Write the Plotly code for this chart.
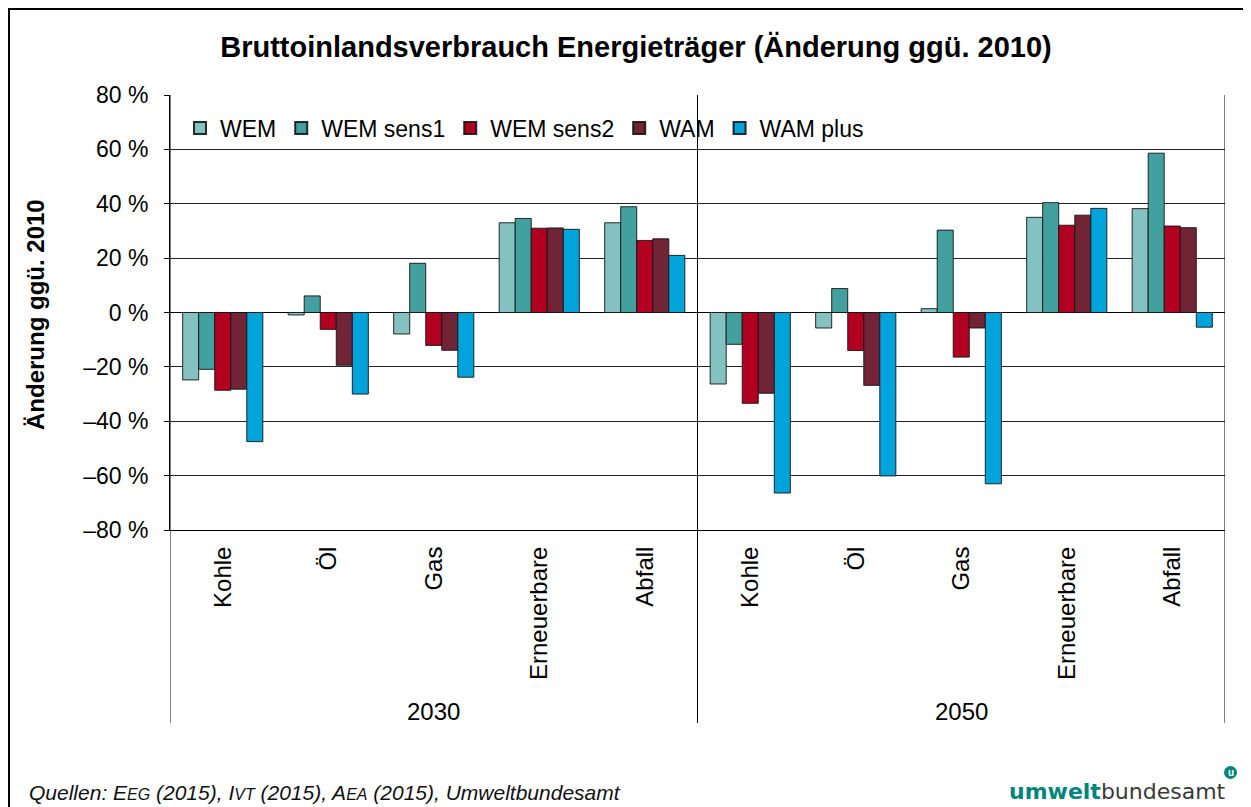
import plotly.graph_objects as go

categories = ["Kohle", "Öl", "Gas", "Erneuerbare", "Abfall",
              "Kohle", "Öl", "Gas", "Erneuerbare", "Abfall"]
years = ["2030", "2050"]
series_names = ["WEM", "WEM sens1", "WEM sens2", "WAM", "WAM plus"]
wem = [-24.8, -0.9, -7.9, 33.0, 33.0, -26.3, -5.7, 1.4, 35.0, 38.2]
wem_sens1 = [-20.9, 6.1, 18.1, 34.6, 38.9, -11.7, 8.8, 30.3, 40.4, 58.6]
wem_sens2 = [-28.6, -6.2, -12.1, 31.0, 26.5, -33.4, -14.0, -16.4, 32.1, 31.8]
wam = [-28.2, -19.4, -13.9, 31.1, 27.1, -29.7, -26.8, -5.7, 35.8, 31.2]
wam_plus = [-47.5, -30.0, -23.8, 30.6, 21.0, -66.4, -60.1, -63.0, 38.3, -5.4]
colors = ["#84C1C1", "#42A19F", "#B20021", "#722437", "#00A3DA"]
y_ticks = [80, 60, 40, 20, 0, -20, -40, -60, -80]
y_ticktext = ["80 %", "60 %", "40 %", "20 %", "0 %", "–20 %", "–40 %", "–60 %", "–80 %"]

FONT = "Liberation Sans, Arial, sans-serif"
xpos = list(range(len(categories)))

# figure geometry (page body has an 8px margin)
W, H = 1243, 799
L, R, T, B = 162, 26, 87, 277
PW, PH = W - L - R, H - T - B


def px(xf):  # figure pixel x -> paper
    return (xf - L) / PW


def py(yf):  # figure pixel y -> paper
    return (H - B - yf) / PH


fig = go.Figure()
for name, vals, col in zip(series_names, [wem, wem_sens1, wem_sens2, wam, wam_plus], colors):
    fig.add_trace(go.Bar(
        x=xpos, y=vals, name=name,
        marker=dict(color=col, line=dict(color="rgba(20,20,20,0.9)", width=1)),
    ))

fig.update_layout(
    width=W, height=H,
    margin=dict(l=L, r=R, t=T, b=B),
    paper_bgcolor="white", plot_bgcolor="white",
    barmode="group", bargap=0.24, bargroupgap=0,
    font=dict(family=FONT, size=23, color="#000"),
    title=dict(text="<b>Bruttoinlandsverbrauch Energieträger (Änderung ggü. 2010)</b>",
               x=628 / W, xanchor="center", y=1 - 39 / H, yanchor="middle",
               font=dict(size=29, family=FONT, color="#000")),
    legend=dict(orientation="h", x=px(172), y=py(120), xanchor="left", yanchor="middle",
                bgcolor="rgba(0,0,0,0)", font=dict(size=23, family=FONT),
                itemsizing="constant", traceorder="normal", itemwidth=30, tracegroupgap=0),
    showlegend=True,
)
fig.update_xaxes(
    range=[-0.5, 9.5], tickmode="array", tickvals=xpos, ticktext=categories,
    tickangle=-90, ticks="", showgrid=False, zeroline=False,
    showline=True, linecolor="#000", linewidth=1,
    tickfont=dict(size=24, family=FONT), ticklabelstandoff=6,
)
fig.update_yaxes(
    range=[-80, 80], tickmode="array", tickvals=y_ticks, ticktext=y_ticktext,
    ticks="outside", ticklen=5, tickcolor="#000", showgrid=True, gridcolor="#222",
    gridwidth=1, zeroline=True, zerolinecolor="#000", zerolinewidth=1,
    showline=True, linecolor="#000", linewidth=1,
    tickfont=dict(size=23, family=FONT), ticklabelstandoff=11,
)

# right border of plot area and group dividers
for xv in [-0.5, 4.5, 9.5]:
    fig.add_shape(type="line", xref="x", yref="paper", x0=xv, x1=xv, y0=py(715), y1=1,
                  line=dict(color="#000", width=1))
# group labels
for i, yr in enumerate(years):
    fig.add_annotation(x=2 + 5 * i, y=py(703), xref="x", yref="paper", text=yr,
                       showarrow=False, font=dict(size=24, family=FONT), yanchor="middle")

# y-axis title
fig.add_annotation(x=px(27), y=py(307), xref="paper", yref="paper",
                   text="<b>Änderung ggü. 2010</b>", textangle=-90, showarrow=False,
                   font=dict(size=24, family=FONT), xanchor="center", yanchor="middle")

# outer frame (top and left)
fig.add_shape(type="line", xref="paper", yref="paper", x0=px(0), x1=px(W), y0=py(1), y1=py(1),
              line=dict(color="#000", width=2))
fig.add_shape(type="line", xref="paper", yref="paper", x0=px(1), x1=px(1), y0=py(0), y1=py(H),
              line=dict(color="#000", width=2))

# footer source note
sc = "<span style='font-size:16px'>{}</span>"
fig.add_annotation(x=px(19), y=py(784), xref="paper", yref="paper", xanchor="left", yanchor="middle",
                   text="<i>Quellen: E" + sc.format("EG") + " (2015), I" + sc.format("VT")
                        + " (2015), A" + sc.format("EA") + " (2015), Umweltbundesamt</i>",
                   showarrow=False, font=dict(size=21, family=FONT, color="#111"))
# logo text
fig.add_annotation(x=px(1220), y=py(783), xref="paper", yref="paper", xanchor="right", yanchor="middle",
                   text="<b><span style='color:#00857D'>umwelt</span></b><span style='color:#3a3a3a'>bundesamt</span>",
                   showarrow=False, font=dict(size=22, family="DejaVu Sans, sans-serif"))
fig.add_shape(type="circle", xref="paper", yref="paper",
              x0=px(1216), x1=px(1229), y0=py(771), y1=py(758),
              fillcolor="#00857D", line=dict(color="#00857D", width=0))
fig.add_annotation(x=px(1222.5), y=py(764.5), xref="paper", yref="paper",
                   text="<b>u</b>", showarrow=False, font=dict(size=10, color="white", family=FONT),
                   xanchor="center", yanchor="middle")

fig.write_html("out.html")
